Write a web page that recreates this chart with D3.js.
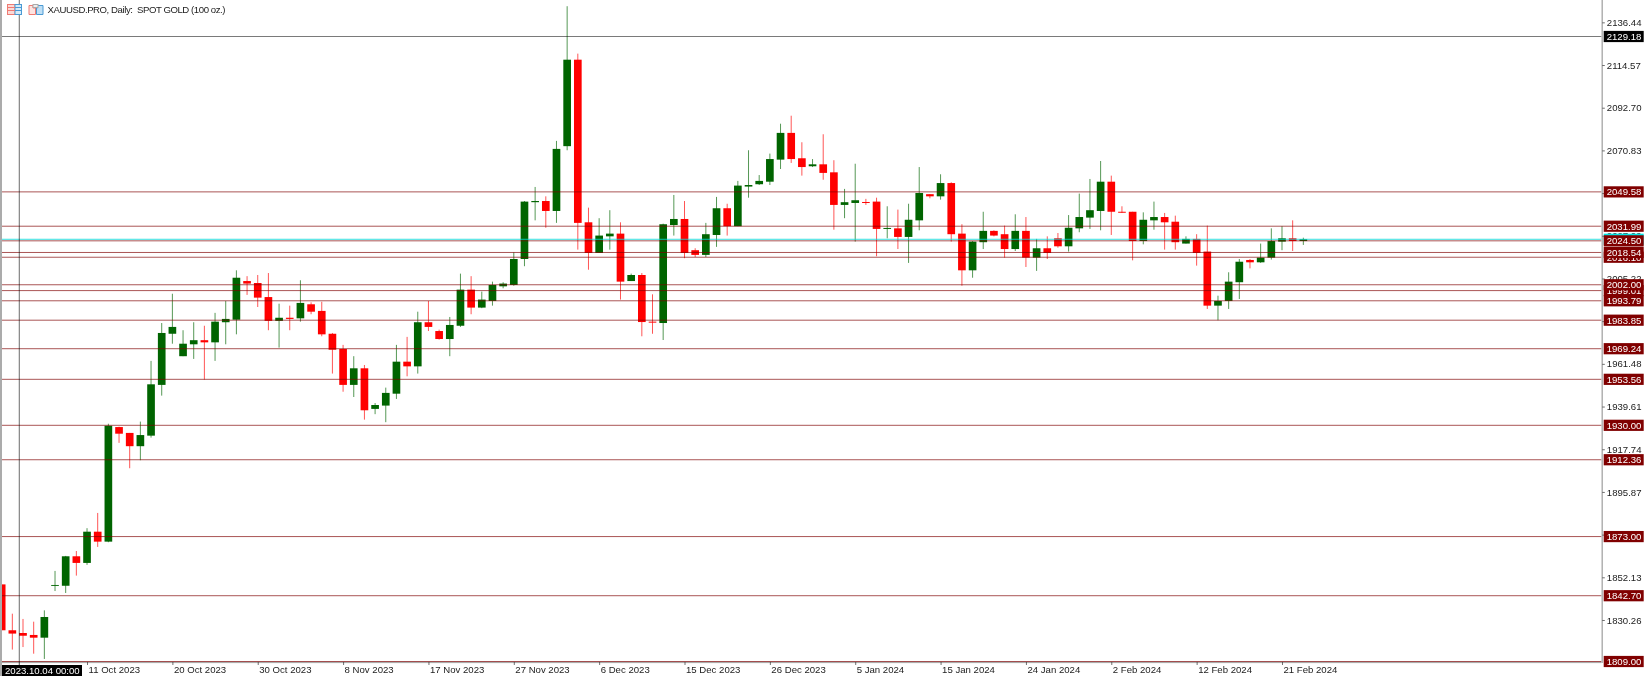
<!DOCTYPE html>
<html>
<head>
<meta charset="utf-8">
<script src="https://cdn.jsdelivr.net/npm/d3@7"></script>
<style>
html,body{margin:0;padding:0;background:#fff;overflow:hidden}
svg{display:block;filter:blur(0.3px)}
text{font-family:"Liberation Sans",Arial,sans-serif;font-size:9.6px;white-space:pre}
</style>
</head>
<body>
<svg id="c" width="1645" height="676"></svg>
<script>
const title = "XAUUSD.PRO, Daily:  SPOT GOLD (100 oz.)";
const opens = [1848.5,1825.0,1823.6,1822.6,1821.2,1847.8,1847.8,1862.9,1859.5,1875.5,1870.4,1929.1,1926.1,1919.3,1924.7,1950.7,1976.9,1965.4,1971.5,1973.6,1972.5,1982.8,1984.1,2003.9,2002.9,1995.7,1983.5,1985.1,1984.8,1992.0,1988.6,1976.9,1969.1,1950.7,1959.2,1938.4,1940.1,1946.2,1962.6,1960.2,1982.8,1978.3,1974.2,1981.0,1999.5,1990.3,1993.7,2001.2,2001.9,2015.2,2044.3,2044.9,2039.8,2073.0,2117.3,2034.0,2018.3,2026.8,2028.2,2003.9,2007.0,1983.1,1982.4,2032.6,2035.7,2019.7,2017.3,2027.5,2041.2,2032.0,2052.3,2053.5,2054.8,2066.1,2079.8,2066.8,2062.7,2063.7,2059.6,2042.9,2043.9,2044.4,2044.6,2030.6,2030.9,2026.5,2035.0,2048.4,2047.3,2054.1,2028.2,2009.4,2023.8,2029.6,2027.9,2020.3,2029.6,2015.9,2020.7,2025.8,2021.7,2030.9,2036.4,2039.8,2054.8,2039.4,2039.4,2024.4,2035.0,2036.7,2034.3,2023.1,2025.5,2019.0,1991.3,1993.7,2003.3,2014.7,2013.5,2015.9,2024.1,2025.8,2024.4];
const highs = [1848.5,1833.5,1830.8,1829.4,1835.2,1855.4,1863.1,1865.6,1877.3,1885.1,1930.8,1929.3,1926.1,1931.9,1963.0,1982.4,1997.4,1978.7,1982.8,1981.0,1987.6,1993.7,2009.4,2006.4,2007.0,2008.0,1992.3,1991.3,2004.3,1993.0,1993.3,1977.3,1971.2,1965.4,1960.9,1941.4,1949.3,1971.2,1975.3,1988.2,1993.7,1979.0,1985.5,2007.7,2006.4,1998.5,2003.6,2003.3,2018.6,2044.9,2052.1,2047.3,2075.7,2144.7,2120.4,2041.5,2036.1,2040.2,2034.0,2007.7,2008.0,1997.1,2033.3,2048.0,2044.9,2020.7,2033.7,2047.0,2043.5,2055.2,2070.9,2058.2,2069.2,2084.5,2088.6,2075.0,2066.4,2079.1,2065.8,2051.1,2064.0,2046.0,2046.6,2042.2,2040.5,2043.5,2062.3,2048.4,2058.6,2054.5,2033.0,2024.4,2039.4,2029.9,2032.3,2038.1,2036.7,2025.5,2026.8,2028.5,2037.7,2048.7,2056.2,2065.4,2057.9,2042.2,2039.4,2039.1,2044.6,2038.8,2037.4,2026.8,2027.9,2032.3,1996.4,2008.4,2015.2,2015.2,2023.1,2030.9,2032.0,2035.0,2026.1];
const lows = [1825.0,1815.1,1816.4,1813.0,1810.3,1845.1,1844.1,1853.0,1858.5,1867.7,1870.1,1921.0,1908.0,1912.1,1923.7,1945.2,1971.8,1965.4,1964.0,1953.4,1963.0,1971.5,1976.6,1996.8,1990.6,1978.7,1969.8,1978.7,1983.1,1986.9,1975.6,1956.5,1947.2,1944.5,1932.9,1935.7,1931.6,1943.5,1955.1,1956.5,1978.3,1973.9,1965.4,1980.4,1986.9,1990.0,1991.3,2000.2,2001.5,2011.5,2035.0,2031.2,2033.7,2070.9,2020.0,2009.7,2018.3,2020.0,1994.4,2003.9,1975.6,1976.9,1973.7,2027.2,2015.6,2016.2,2016.2,2021.4,2027.2,2032.0,2046.6,2053.1,2053.1,2061.3,2064.4,2057.9,2062.3,2055.8,2030.2,2036.1,2024.1,2042.9,2016.6,2025.8,2020.3,2013.2,2029.9,2046.3,2045.6,2024.1,2001.5,2005.6,2020.3,2026.8,2015.9,2019.3,2011.1,2009.1,2015.2,2021.0,2019.0,2028.9,2030.6,2029.9,2027.5,2038.8,2014.5,2022.7,2030.2,2020.0,2020.0,2023.1,2011.8,1989.6,1983.8,1989.6,1994.7,2010.4,2013.2,2014.9,2019.7,2019.3,2022.4];
const closes = [1825.0,1823.3,1822.2,1821.2,1831.8,1848.2,1862.9,1859.5,1875.5,1870.4,1929.8,1925.7,1919.3,1925.0,1951.0,1977.3,1980.4,1971.8,1973.6,1972.5,1983.1,1984.5,2005.6,2002.6,1995.4,1983.5,1985.1,1984.5,1992.7,1988.2,1976.6,1968.7,1950.7,1959.2,1937.7,1940.4,1946.6,1962.6,1960.2,1982.8,1980.4,1974.2,1981.4,1999.5,1990.3,1994.4,2001.9,2002.6,2015.2,2044.6,2044.9,2039.8,2071.6,2117.3,2033.7,2018.3,2027.2,2028.2,2003.6,2007.0,1982.9,1982.6,2033.0,2035.7,2018.3,2017.3,2027.9,2041.2,2032.0,2052.8,2053.1,2055.2,2066.4,2079.8,2066.4,2062.3,2063.7,2059.3,2042.9,2044.3,2045.3,2043.9,2030.6,2031.1,2026.5,2035.3,2049.0,2047.3,2054.1,2027.9,2009.4,2024.1,2029.6,2027.2,2020.3,2029.6,2015.9,2020.7,2018.3,2021.7,2031.2,2036.7,2040.2,2054.8,2039.4,2038.9,2024.4,2035.3,2036.7,2034.0,2023.8,2025.5,2018.3,1991.3,1993.7,2003.6,2013.8,2013.5,2015.9,2024.4,2025.8,2024.4,2025.3];

const xTickIndex = [8,16,24,32,40,48,56,64,72,80,88,96,104,112,120];
const xTickLabels = ["11 Oct 2023","20 Oct 2023","30 Oct 2023","8 Nov 2023","17 Nov 2023","27 Nov 2023","6 Dec 2023","15 Dec 2023","26 Dec 2023","5 Jan 2024","15 Jan 2024","24 Jan 2024","2 Feb 2024","12 Feb 2024","21 Feb 2024"];
const yTickValues = [2136.44,2114.57,2092.70,2070.83,2048.96,2027.09,2005.22,1983.35,1961.48,1939.61,1917.74,1895.87,1874.00,1852.13,1830.26];
const levels = [2049.58,2031.99,2024.50,2018.54,2016.10,2002.00,1999.01,1993.79,1983.85,1969.24,1953.56,1930.00,1912.36,1873.00,1842.70,1809.00];
const bidPrice = 2025.30;
const crossPrice = 2129.18;
const crossIndex = 1.65;
const crossDate = "2023.10.04 00:00";

const GREEN="#006400", RED="#ff0000", MAROON="#800000", FRAME="#ababab";
const W=1645, H=676, L=2, R=1601.5, B=662;
const svg=d3.select("#c");
const x=d3.scaleLinear().domain([0,122]).range([1.67,1303.33]);
const y=d3.scaleLinear().domain([1809,2129.18]).range([661.5,36.5]);
const idx=d3.range(opens.length);

svg.append("defs").append("clipPath").attr("id","plot").append("rect")
  .attr("x",L).attr("y",0).attr("width",R-L).attr("height",B);

// frame
svg.append("rect").attr("x",0).attr("y",0).attr("width",L).attr("height",H).attr("fill",FRAME);
svg.append("rect").attr("x",R).attr("y",0).attr("width",1.4).attr("height",B+1).attr("fill",FRAME);
svg.append("rect").attr("x",L).attr("y",B-.3).attr("width",R-L).attr("height",1.4).attr("fill",FRAME);

// axes
const yAxis=d3.axisRight(y).tickValues(yTickValues).tickFormat(d=>d.toFixed(2)).tickSize(2.5).tickPadding(2);
const gy=svg.append("g").attr("transform",`translate(${R+.8},0)`).call(yAxis);
gy.select(".domain").remove();
gy.selectAll("line").attr("stroke","#333").attr("stroke-width",.7);
gy.selectAll("text").attr("fill","#222").style("font-family",'"Liberation Sans",Arial,sans-serif').style("font-size","9.6px");

const xAxis=d3.axisBottom(x).tickValues(xTickIndex).tickFormat((d,i)=>xTickLabels[i]).tickSize(3).tickPadding(1);
const gx=svg.append("g").attr("transform",`translate(0,${B})`).call(xAxis);
gx.select(".domain").remove();
gx.selectAll("line").attr("stroke","#333").attr("stroke-width",.7);
gx.selectAll("text").attr("fill","#222").attr("text-anchor","start").attr("x",1).attr("y",4.5)
  .style("font-family",'"Liberation Sans",Arial,sans-serif').style("font-size","9.6px");

const plot=svg.append("g").attr("clip-path","url(#plot)");

// wicks + bodies
plot.selectAll("line.w").data(idx).join("line").attr("class","w")
  .attr("x1",i=>x(i)).attr("x2",i=>x(i))
  .attr("y1",i=>y(highs[i])).attr("y2",i=>y(lows[i]))
  .attr("stroke",i=>closes[i]>=opens[i]?GREEN:RED).attr("stroke-width",.67);
plot.selectAll("rect.b").data(idx).join("rect").attr("class","b")
  .attr("x",i=>x(i)-3.83).attr("width",7.67)
  .attr("y",i=>y(Math.max(opens[i],closes[i])))
  .attr("height",i=>Math.max(.9,Math.abs(y(opens[i])-y(closes[i]))))
  .attr("fill",i=>closes[i]>=opens[i]?GREEN:RED);

// horizontal levels
plot.selectAll("line.l").data(levels).join("line").attr("class","l")
  .attr("x1",L).attr("x2",R).attr("y1",d=>y(d)).attr("y2",d=>y(d))
  .attr("stroke",MAROON).attr("stroke-width",.67);
// bid line
plot.append("line").attr("x1",L).attr("x2",R).attr("y1",y(bidPrice)).attr("y2",y(bidPrice))
  .attr("stroke","#00d8d8").attr("stroke-width",.8);
// crosshair
plot.append("line").attr("x1",L).attr("x2",R).attr("y1",y(crossPrice)).attr("y2",y(crossPrice))
  .attr("stroke","#000").attr("stroke-width",.7).attr("opacity",.75);
plot.append("line").attr("x1",x(crossIndex)).attr("x2",x(crossIndex)).attr("y1",0).attr("y2",B+3)
  .attr("stroke","#000").attr("stroke-width",.7).attr("opacity",.85);
svg.append("line").attr("x1",x(crossIndex)).attr("x2",x(crossIndex)).attr("y1",B).attr("y2",665)
  .attr("stroke","#000").attr("stroke-width",.7);

// price tags
function tag(price,bg,fg,label){
  const g=svg.append("g").attr("transform",`translate(1603.7,${y(price)})`);
  g.append("rect").attr("x",0).attr("y",-5.6).attr("width",40).attr("height",11.2).attr("fill",bg);
  if(label) g.append("text").attr("x",3).attr("dy","0.35em").attr("fill",fg).text(label);
}
tag(bidPrice,"#00e5e5","#000",null);
levels.slice().reverse().forEach(d=>tag(d,MAROON,"#fff",d.toFixed(2)));
tag(crossPrice,"#000","#fff",crossPrice.toFixed(2));

// crosshair date tag
svg.append("rect").attr("x",2).attr("y",665).attr("width",80).attr("height",11).attr("fill","#000");
svg.append("text").attr("x",5).attr("y",674).attr("fill","#fff").text(crossDate);

// title + icons
svg.append("text").attr("x",47.5).attr("y",13.2).attr("fill","#222").attr("textLength",178).attr("lengthAdjust","spacing").attr("xml:space","preserve").text(title);
const ic=svg.append("g").attr("fill","none").attr("stroke-width",1);
ic.append("rect").attr("x",7.5).attr("y",4.5).attr("width",7.5).attr("height",10).attr("stroke","#ef7a72").attr("fill","#fbd9d6");
ic.append("rect").attr("x",15).attr("y",4.5).attr("width",6.5).attr("height",10).attr("stroke","#4a9ad4").attr("fill","#d6eaf8");
[7.5,10.5].forEach(v=>{
  ic.append("line").attr("x1",8).attr("x2",15).attr("y1",v).attr("y2",v).attr("stroke","#ef7a72");
  ic.append("line").attr("x1",15).attr("x2",21).attr("y1",v).attr("y2",v).attr("stroke","#4a9ad4");
});
ic.append("path").attr("d","M29 5.5h4v2.5h2.5v6.5h-6.5z").attr("stroke","#ef7a72").attr("fill","#fde4e1");
ic.append("path").attr("d","M37.5 8v-2.5h5.5v9h-6.5v-6.5z").attr("stroke","#4a9ad4").attr("fill","#bfdff5");
ic.append("rect").attr("x",33).attr("y",4.5).attr("width",5).attr("height",3).attr("stroke","#aaa").attr("fill","#eee");
</script>
</body>
</html>
